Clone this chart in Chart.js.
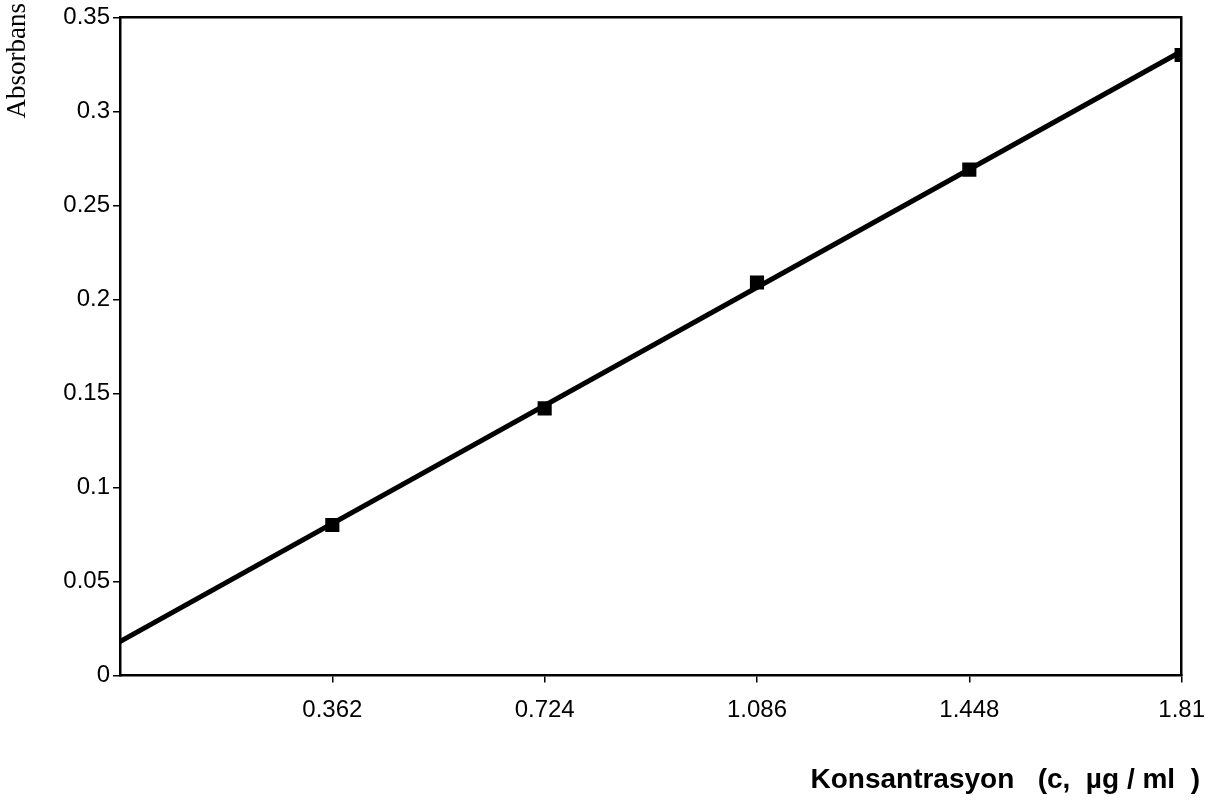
<!DOCTYPE html>
<html>
<head>
<meta charset="utf-8">
<script src="https://cdn.jsdelivr.net/npm/chart.js@4/dist/chart.umd.min.js"></script>
<style>
  html, body { margin: 0; padding: 0; background: #fff; }
  #wrap { width: 1219px; height: 810px; }
</style>
</head>
<body>
<div id="wrap"><canvas id="chartContainer"></canvas></div>
<script>
"use strict";

// 1: data
let concentrations = [0.362, 0.724, 1.086, 1.448, 1.81];
let absorbances = [0.080, 0.142, 0.209, 0.269, 0.330];
// fitted line, read at its two ends
let trendX = [0, 1.81];
let trendY = [0.018, 0.332];
let xTickLabels = ['0.362', '0.724', '1.086', '1.448', '1.81'];
let yTicks = [0, 0.05, 0.1, 0.15, 0.2, 0.25, 0.3, 0.35];

// 2: prepare data
function toPoints(xs, ys) {
  let pts = [];
  for (let i = 0; i < xs.length; i++) {
    pts.push({ x: xs[i], y: ys[i] });
  }
  return pts;
}

// 3: create chart
function appendChart() {
  let ctx = document.getElementById('chartContainer');
  new Chart(ctx, {
    type: 'line',
    data: {
      datasets: [{
        data: toPoints(trendX, trendY),
        borderColor: '#000',
        borderWidth: 5,
        pointRadius: 0,
        fill: false
      },
      {
        data: toPoints(concentrations, absorbances),
        showLine: false,
        pointStyle: 'rect',
        pointRadius: 10,
        pointBackgroundColor: '#000',
        pointBorderColor: '#000',
        pointBorderWidth: 0
      }]
    },
    options: {
      responsive: true,
      maintainAspectRatio: false,
      animation: false,
      layout: { padding: { left: 0, top: 3, right: 19, bottom: 0 } },
      plugins: {
        legend: { display: false },
        tooltip: { enabled: false },
        title: {
          display: true,
          position: 'bottom',
          align: 'end',
          text: 'Konsantrasyon   (c,  µg / ml  )',
          color: '#000',
          font: { family: 'Liberation Sans, Arial', size: 28, weight: 'bold' },
          padding: { top: 0, bottom: 13 }
        },
        // y axis title, kept at the very top like the original
        subtitle: {
          display: true,
          position: 'left',
          align: 'end',
          text: 'Absorbans',
          color: '#000',
          font: { family: 'Liberation Serif, Times New Roman', size: 27 },
          padding: { top: 2, bottom: 0 }
        }
      },
      scales: {
        x: {
          type: 'linear',
          position: 'bottom',
          min: 0,
          max: 1.81,
          afterBuildTicks: function(scale) {
            scale.ticks = concentrations.map(v => ({ value: v }));
          },
          afterFit: function(scale) { scale.height = 88; },
          ticks: {
            color: '#000',
            padding: 14,
            maxRotation: 0,
            font: { family: 'Liberation Sans, Arial', size: 24 },
            callback: function(value, index) { return xTickLabels[index]; }
          },
          grid: { drawOnChartArea: false, tickLength: 7, color: '#000', lineWidth: 1.5 },
          border: { color: '#000', width: 2.5 }
        },
        xTop: {
          type: 'linear',
          position: 'top',
          min: 0,
          max: 1.81,
          afterFit: function(scale) { scale.height = 0; },
          ticks: { display: false },
          grid: { display: false },
          border: { color: '#000', width: 2.5 }
        },
        y: {
          min: 0,
          max: 0.35,
          afterBuildTicks: function(scale) {
            scale.ticks = yTicks.map(v => ({ value: v }));
          },
          afterFit: function(scale) { scale.width = 85.6; },
          ticks: {
            color: '#000',
            padding: 3,
            font: { family: 'Liberation Sans, Arial', size: 24 },
            callback: function(value) { return String(+value.toFixed(2)); }
          },
          grid: { drawOnChartArea: false, tickLength: 7, color: '#000', lineWidth: 1.5 },
          border: { color: '#000', width: 2.5 }
        },
        yRight: {
          position: 'right',
          min: 0,
          max: 0.35,
          afterFit: function(scale) { scale.width = 18; },
          ticks: { display: false },
          grid: { display: false },
          border: { color: '#000', width: 2.5 }
        }
      }
    }
  });
}

appendChart();
</script>
</body>
</html>
